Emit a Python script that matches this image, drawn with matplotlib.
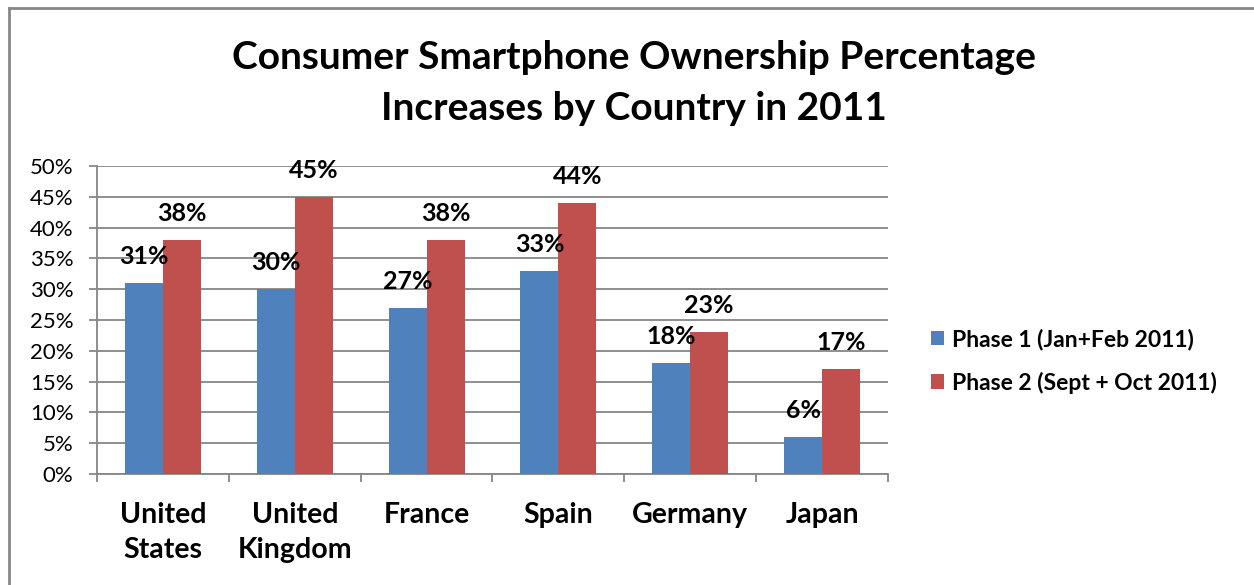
import matplotlib.pyplot as plt
from matplotlib.lines import Line2D

plt.rcParams['font.family'] = ['Lato', 'DejaVu Sans']

countries = ['United\nStates', 'United\nKingdom', 'France', 'Spain', 'Germany', 'Japan']
phase1 = [31, 30, 27, 33, 18, 6]
phase2 = [38, 45, 38, 44, 23, 17]
series_names = ['Phase 1 (Jan+Feb 2011)', 'Phase 2 (Sept + Oct 2011)']
colors = ['#4F81BD', '#C0504D']
grid_col = '#868686'

fig = plt.figure(figsize=(12.54, 5.85), dpi=100)
ax = fig.add_axes([97 / 1254, 1 - 474 / 585, (888 - 97) / 1254, (474 - 166) / 585])

x = list(range(len(countries)))
w = 0.288
b1 = ax.bar([i - w / 2 for i in x], phase1, w, color=colors[0], label=series_names[0], zorder=3)
b2 = ax.bar([i + w / 2 for i in x], phase2, w, color=colors[1], label=series_names[1], zorder=3)

for bars, vals in [(b1, phase1), (b2, phase2)]:
    for r, v in zip(bars, vals):
        ax.annotate(f'{v}%', (r.get_x() + r.get_width() / 2, v), xytext=(0, 19),
                    textcoords='offset points', ha='center', va='center',
                    fontsize=18, fontweight='bold', zorder=4)

ax.set_xlim(-0.5, len(countries) - 0.5)
ax.set_ylim(0, 50)
ax.set_yticks(range(0, 51, 5))
ax.set_yticklabels([f'{t}%' for t in range(0, 51, 5)])
ax.yaxis.grid(True, color=grid_col, linewidth=1.3, zorder=0)

ax.set_xticks(x)
ax.set_xticklabels(countries, fontsize=20.5, fontweight='bold', linespacing=1.45)
ax.set_xticks([i - 0.5 for i in range(len(countries) + 1)], minor=True)
ax.tick_params(axis='x', which='major', length=0, pad=20)
ax.tick_params(axis='x', which='minor', length=6, width=1.3, color=grid_col, direction='out')
ax.tick_params(axis='y', length=6, width=1.3, color=grid_col, pad=11, labelsize=16)
for lbl in ax.get_xticklabels():
    lbl.set_verticalalignment('top')

for s in ['top', 'right']:
    ax.spines[s].set_visible(False)
for s in ['left', 'bottom']:
    ax.spines[s].set_color(grid_col)
    ax.spines[s].set_linewidth(1.3)

fig.text(634 / 1254, 1 - 83 / 585,
         'Consumer Smartphone Ownership Percentage\nIncreases by Country in 2011',
         ha='center', va='center', fontsize=28, fontweight='bold', linespacing=1.55)

fig.legend(handles=[b1, b2], loc='center left', bbox_to_anchor=(910 / 1254, 1 - 361 / 585),
           frameon=False, prop={'size': 16.5, 'weight': 'bold'}, handlelength=0.6,
           handleheight=0.6, handletextpad=0.35, labelspacing=0.95)

# chart border (top and left edges visible)
fig.add_artist(Line2D([9 / 1254, 9 / 1254], [0, 1 - 8 / 585], transform=fig.transFigure,
                      color='#868686', linewidth=2))
fig.add_artist(Line2D([9 / 1254, 1], [1 - 8 / 585, 1 - 8 / 585], transform=fig.transFigure,
                      color='#868686', linewidth=2))

fig.savefig('out.png', dpi=100)
